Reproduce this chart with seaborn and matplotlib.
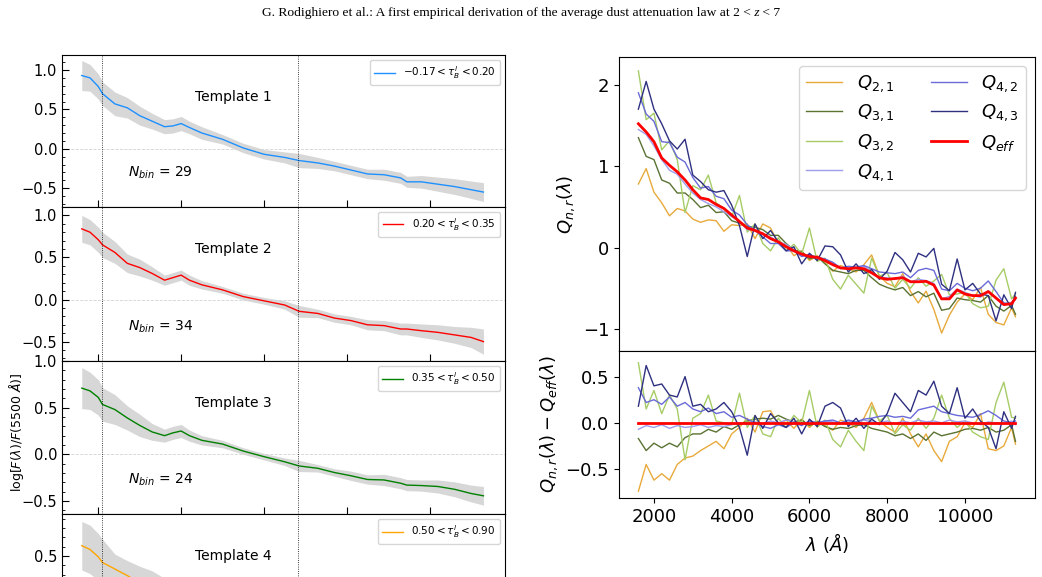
import numpy as np
import seaborn as sns
import matplotlib
matplotlib.use("Agg")
from matplotlib import pyplot as plt
from matplotlib.ticker import MultipleLocator

# ---- left column: stacked templates ----
tmpl_wave = [1600, 1800, 2000, 2100, 2400, 2700, 3000, 3300, 3600, 3800,
             4000, 4200, 4500, 5000, 5500, 6000, 6500, 6850, 7300, 7700,
             8100, 8500, 8900, 9300, 9450, 9800, 10200, 10600, 11000, 11300]

t1_line = [0.93, 0.90, 0.79, 0.70, 0.57, 0.52, 0.42, 0.35, 0.28, 0.29,
           0.32, 0.27, 0.20, 0.12, 0.01, -0.07, -0.11, -0.15, -0.18, -0.22,
           -0.27, -0.32, -0.33, -0.37, -0.42, -0.42, -0.45, -0.48, -0.52, -0.55]
t1_half = [0.19, 0.17, 0.16, 0.15, 0.15, 0.13, 0.12, 0.10, 0.09, 0.09,
           0.09, 0.08, 0.08, 0.06, 0.06, 0.06, 0.07, 0.09, 0.07, 0.06,
           0.06, 0.06, 0.07, 0.07, 0.07, 0.08, 0.09, 0.10, 0.11, 0.12]

t2_line = [0.84, 0.80, 0.71, 0.65, 0.56, 0.43, 0.38, 0.31, 0.23, 0.26,
           0.29, 0.23, 0.175, 0.115, 0.035, -0.015, -0.065, -0.14, -0.165, -0.22,
           -0.25, -0.30, -0.31, -0.35, -0.35, -0.37, -0.39, -0.42, -0.45, -0.50]
t2_half = [0.16, 0.15, 0.15, 0.15, 0.13, 0.11, 0.10, 0.08, 0.06, 0.06,
           0.06, 0.06, 0.05, 0.04, 0.04, 0.04, 0.05, 0.07, 0.05, 0.05,
           0.05, 0.06, 0.06, 0.07, 0.07, 0.08, 0.09, 0.10, 0.12, 0.15]

t3_line = [0.71, 0.68, 0.61, 0.535, 0.48, 0.39, 0.31, 0.24, 0.20, 0.23,
           0.25, 0.20, 0.15, 0.11, 0.035, -0.025, -0.08, -0.125, -0.15, -0.195,
           -0.23, -0.27, -0.275, -0.31, -0.33, -0.335, -0.345, -0.375, -0.42, -0.445]
t3_half = [0.22, 0.20, 0.19, 0.18, 0.16, 0.13, 0.12, 0.09, 0.07, 0.07,
           0.07, 0.06, 0.05, 0.04, 0.035, 0.035, 0.04, 0.06, 0.04, 0.04,
           0.05, 0.05, 0.06, 0.06, 0.06, 0.06, 0.07, 0.08, 0.09, 0.10]

t4_line = [0.61, 0.57, 0.49, 0.43, 0.36, 0.29, 0.21, 0.14, 0.08, 0.09,
           0.11, 0.05, -0.02, -0.10, -0.19, -0.26, -0.32, -0.37, -0.41, -0.45,
           -0.49, -0.53, -0.55, -0.58, -0.61, -0.62, -0.65, -0.68, -0.71, -0.74]
t4_half = [0.26, 0.26, 0.25, 0.25, 0.16, 0.16, 0.18, 0.20, 0.18, 0.17,
           0.16, 0.15, 0.13, 0.10, 0.08, 0.08, 0.09, 0.11, 0.09, 0.09,
           0.09, 0.10, 0.10, 0.11, 0.11, 0.12, 0.13, 0.14, 0.16, 0.18]

tmpl_lines = [t1_line, t2_line, t3_line, t4_line]
tmpl_halves = [t1_half, t2_half, t3_half, t4_half]
tmpl_names = ["Template 1", "Template 2", "Template 3", "Template 4"]
tmpl_nbin = ["29", "34", "24", None]
tmpl_labels = [r"$-0.17 < \tau_B^l < 0.20$", r"$0.20 < \tau_B^l < 0.35$",
               r"$0.35 < \tau_B^l < 0.50$", r"$0.50 < \tau_B^l < 0.90$"]
tmpl_colors = ["dodgerblue", "red", "green", "orange"]

# ---- right column: Q_{n,r} curves ----
q_wave = [1600, 1800, 2000, 2200, 2400, 2600, 2800, 3000, 3200, 3400,
          3600, 3800, 4000, 4200, 4400, 4600, 4800, 5000, 5200, 5400,
          5600, 5800, 6000, 6200, 6400, 6600, 6800, 7000, 7200, 7400,
          7600, 7800, 8000, 8200, 8400, 8600, 8800, 9000, 9200, 9400,
          9600, 9800, 10000, 10200, 10400, 10600, 10800, 11000, 11200, 11300]

q_eff = [1.52, 1.42, 1.30, 1.10, 1.01, 0.93, 0.83, 0.71, 0.61, 0.59,
         0.53, 0.48, 0.40, 0.32, 0.24, 0.21, 0.17, 0.11, 0.07, 0.01,
         -0.04, -0.08, -0.11, -0.12, -0.16, -0.21, -0.25, -0.26, -0.25, -0.26,
         -0.31, -0.37, -0.39, -0.38, -0.37, -0.42, -0.42, -0.415, -0.46, -0.63,
         -0.63, -0.52, -0.57, -0.59, -0.59, -0.54, -0.62, -0.70, -0.69, -0.62]

# residuals Q_{n,r} - Q_eff
res_21 = [-0.74, -0.45, -0.62, -0.55, -0.62, -0.45, -0.38, -0.36, -0.30, -0.25,
          -0.20, -0.28, -0.12, -0.05, 0.05, -0.10, 0.12, 0.13, -0.02, 0.03,
          -0.06, 0.04, -0.05, 0.02, -0.03, -0.08, 0.03, 0.00, -0.05, 0.05,
          0.22, 0.02, -0.05, -0.10, 0.05, -0.12, -0.26, -0.12, -0.30, -0.42,
          -0.20, -0.15, 0.00, -0.05, 0.10, -0.28, -0.30, -0.25, -0.05, -0.23]
res_31 = [-0.17, -0.30, -0.22, -0.27, -0.22, -0.26, -0.16, -0.12, -0.12, -0.07,
          -0.10, -0.04, -0.07, -0.02, 0.02, 0.04, 0.05, 0.04, 0.08, 0.04,
          0.01, 0.03, -0.03, 0.01, -0.04, -0.07, -0.05, -0.06, -0.03, -0.02,
          -0.06, -0.08, -0.10, -0.14, -0.12, -0.17, -0.12, -0.19, -0.10, -0.14,
          -0.12, -0.10, -0.07, -0.06, -0.08, -0.05, -0.10, -0.08, -0.02, -0.20]
res_32 = [0.65, 0.15, 0.35, 0.10, 0.30, 0.15, -0.40, 0.05, 0.10, 0.30,
          0.02, 0.00, -0.02, 0.32, -0.05, 0.08, -0.12, -0.15, 0.05, -0.05,
          0.08, 0.00, 0.35, -0.05, 0.03, -0.18, -0.26, -0.08, -0.20, -0.30,
          0.18, 0.02, 0.08, -0.12, -0.02, -0.08, 0.05, -0.06, 0.05, 0.30,
          0.05, -0.05, 0.02, -0.10, -0.15, -0.18, 0.22, 0.44, 0.06, 0.05]
res_41 = [-0.07, -0.03, -0.05, -0.02, -0.06, -0.03, -0.05, -0.04, -0.02, -0.05,
          -0.03, -0.04, -0.02, 0.00, -0.02, 0.01, -0.01, 0.02, 0.00, 0.03,
          0.01, -0.02, 0.02, 0.00, 0.02, 0.01, -0.01, 0.02, 0.00, 0.03,
          0.01, 0.00, 0.02, -0.01, 0.02, 0.00, 0.03, 0.01, 0.02, 0.00,
          0.03, 0.01, 0.02, 0.00, -0.02, 0.01, 0.00, -0.01, 0.02, -0.02]
res_42 = [0.38, 0.22, 0.25, 0.20, 0.28, 0.18, 0.22, 0.15, 0.12, 0.16,
          0.10, 0.12, 0.06, 0.08, 0.04, 0.00, -0.04, -0.06, -0.02, -0.05,
          0.00, -0.03, 0.02, 0.00, 0.02, 0.03, 0.00, 0.03, 0.01, 0.04,
          0.05, 0.07, 0.08, 0.06, 0.07, 0.05, 0.14, 0.16, 0.18, 0.12,
          0.10, 0.08, 0.07, 0.06, 0.09, 0.13, 0.08, 0.02, 0.00, 0.02]
res_43 = [0.18, 0.62, 0.40, 0.42, 0.30, 0.28, 0.50, 0.18, 0.20, 0.12,
          0.15, 0.22, 0.12, -0.05, -0.35, 0.08, -0.06, 0.10, 0.00, -0.05,
          0.05, -0.12, 0.04, -0.04, 0.18, 0.22, 0.16, -0.04, 0.05, -0.06,
          0.04, -0.02, 0.10, 0.32, 0.22, 0.12, 0.35, 0.30, 0.45, 0.18,
          0.10, 0.38, 0.05, 0.15, 0.02, -0.05, -0.28, 0.12, -0.06, 0.07]

q_res = [res_21, res_31, res_32, res_41, res_42, res_43]
q_labels = [r"$Q_{2,1}$", r"$Q_{3,1}$", r"$Q_{3,2}$", r"$Q_{4,1}$", r"$Q_{4,2}$", r"$Q_{4,3}$"]
q_colors = ["#e8aa3c", "#5a7232", "#a6cc66", "#9d9ded", "#6a6ad8", "#2e3080"]


def main():
    fig = plt.figure(figsize=(10.42, 5.77), dpi=100)

    # left stack (4th panel runs off the bottom of the page)
    rows = [(0.6412, 0.2634), (0.3744, 0.2669), (0.1092, 0.2652), (-0.156, 0.2652)]
    ylims = [(-0.74, 1.19), (-0.73, 1.10), (-0.64, 1.001), (-0.69, 0.95)]
    for i, (b, h) in enumerate(rows):
        ax = fig.add_axes([0.0595, b, 0.425, h])
        line = np.array(tmpl_lines[i])
        half = np.array(tmpl_halves[i])
        ax.axhline(0, color="lightgrey", ls="--", lw=0.6, zorder=0.5)
        ax.fill_between(tmpl_wave, line - half, line + half, color="lightgrey",
                        alpha=0.9, lw=0, zorder=1)
        sns.lineplot(x=tmpl_wave, y=tmpl_lines[i], color=tmpl_colors[i], lw=1.0,
                     label=tmpl_labels[i], ax=ax, zorder=2)
        for xv in (2100, 6830):
            ax.axvline(xv, color="k", ls=":", lw=0.6, zorder=3)
        ax.set_xlim(1123, 11817)
        ax.set_ylim(*ylims[i])
        ax.xaxis.set_major_locator(MultipleLocator(2000))
        if i < 3:
            ax.yaxis.set_major_locator(MultipleLocator(0.5))
        else:
            # only the tick that is still on the page
            ax.set_yticks([0.5])
        ax.yaxis.set_minor_locator(MultipleLocator(0.1))
        ax.tick_params(which="both", direction="in", labelbottom=False, labelsize=10.5)
        ax.tick_params(which="major", length=5)
        ax.tick_params(which="minor", length=2.5)
        ax.text(0.386, 0.725, tmpl_names[i], transform=ax.transAxes,
                ha="center", va="center", fontsize=10)
        if tmpl_nbin[i]:
            ax.text(0.149, 0.224, r"$N_{bin}$ = " + tmpl_nbin[i], transform=ax.transAxes,
                    ha="left", va="center", fontsize=10)
        ax.legend(loc="upper right", fontsize=7.5, handlelength=2)

    fig.text(0.0155, 1 - 432 / 577, r"log[$F(\lambda)/F(5500\ \AA)$]", rotation=90,
             ha="center", va="center", fontsize=9)

    # right column
    ax_top = fig.add_axes([0.594, 0.3917, 0.3992, 0.5095])
    ax_bot = fig.add_axes([0.594, 0.1369, 0.3992, 0.2548], sharex=ax_top)
    eff = np.array(q_eff)
    for res, lab, col in zip(q_res, q_labels, q_colors):
        sns.lineplot(x=q_wave, y=eff + np.array(res), color=col, lw=1.0, label=lab, ax=ax_top)
        sns.lineplot(x=q_wave, y=res, color=col, lw=1.0, ax=ax_bot)
    sns.lineplot(x=q_wave, y=q_eff, color="red", lw=2.0, label=r"$Q_{eff}$", ax=ax_top)
    sns.lineplot(x=q_wave, y=eff - eff, color="red", lw=2.0, ax=ax_bot)

    ax_top.set_xlim(1100, 11800)
    ax_top.set_ylim(-1.27, 2.34)
    ax_bot.set_ylim(-0.813, 0.777)
    ax_top.yaxis.set_major_locator(MultipleLocator(1))
    ax_bot.yaxis.set_major_locator(MultipleLocator(0.5))
    ax_bot.xaxis.set_major_locator(MultipleLocator(2000))
    ax_top.tick_params(labelbottom=False, bottom=False, labelsize=13)
    ax_bot.tick_params(labelsize=13)
    ax_top.set_ylabel(r"$Q_{n,r}(\lambda)$", fontsize=13)
    ax_bot.set_ylabel(r"$Q_{n,r}(\lambda) - Q_{eff}(\lambda)$", fontsize=13)
    ax_bot.set_xlabel(r"$\lambda\ (\AA)$", fontsize=13)
    ax_top.legend(loc="upper right", ncol=2, fontsize=13, handlelength=2)

    # page running title with italic z
    fig.canvas.draw()
    renderer = fig.canvas.get_renderer()
    pieces = [("G. Rodighiero et al.: A first empirical derivation of the average dust "
               "attenuation law at 2 <", "normal"), (" z", "italic"), (" < 7", "normal")]
    texts = [fig.text(0, 1 - 13 / 577, s, fontstyle=st, family="Liberation Serif",
                      fontsize=9.7, va="center") for s, st in pieces]
    widths = [t.get_window_extent(renderer).width / fig.bbox.width for t in texts]
    x = 0.5 - sum(widths) / 2
    for t, w in zip(texts, widths):
        t.set_x(x)
        x += w

    fig.savefig("out.png", dpi=100)


if __name__ == "__main__":
    main()
